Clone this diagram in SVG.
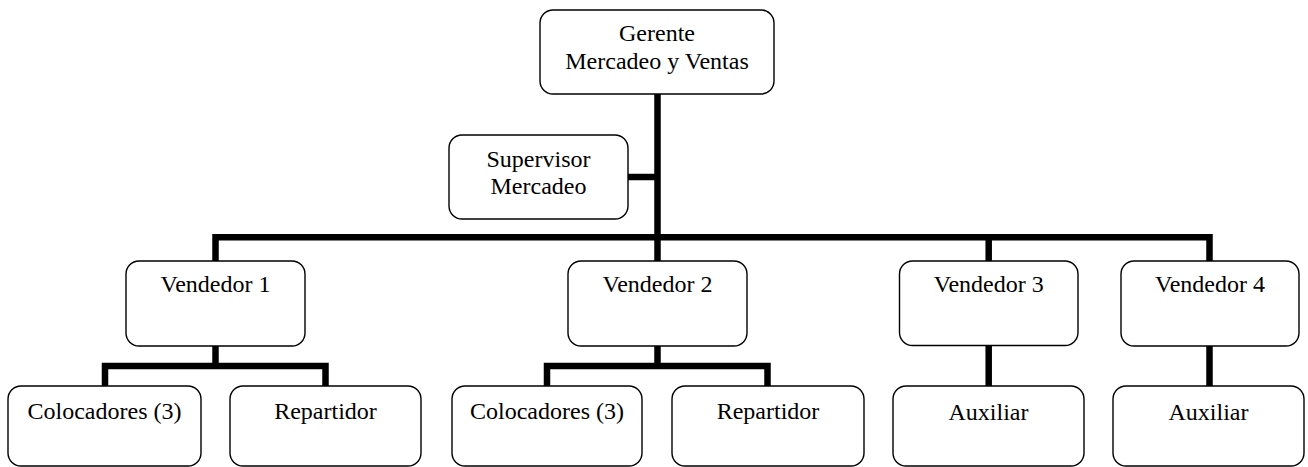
<svg xmlns="http://www.w3.org/2000/svg" width="1308" height="467" viewBox="0 0 1308 467">
  <style>
    .box { fill: #ffffff; stroke: #000000; stroke-width: 1.4; }
    .lbl { font-family: "Liberation Serif", "Times New Roman", serif; font-size: 24px; fill: #000000; text-anchor: middle; }
    .wire { fill: none; stroke: #000000; stroke-width: 6.5; stroke-linejoin: miter; stroke-linecap: butt; }
  </style>
  <rect width="1308" height="467" fill="#ffffff"/>

  <!-- connectors -->
  <g id="connectors">
    <path class="wire" d="M657.5,94 V261"/>
    <path class="wire" d="M628,177 H657.5"/>
    <path class="wire" d="M215.5,261 V237.3 H1209.5 V261"/>
    <path class="wire" d="M988.7,237.3 V261"/>
    <path class="wire" d="M215.5,346 V366"/>
    <path class="wire" d="M105,386 V366 H325.5 V386"/>
    <path class="wire" d="M657.5,346 V366"/>
    <path class="wire" d="M547,386 V366 H767.5 V386"/>
    <path class="wire" d="M988.7,345 V386"/>
    <path class="wire" d="M1209.5,346 V386"/>
  </g>

  <g id="gerente">
    <rect class="box" x="540" y="10" width="234" height="84" rx="13"/>
    <text class="lbl" x="657" y="40.5">Gerente</text>
    <text class="lbl" x="657" y="69">Mercadeo y Ventas</text>
  </g>

  <g id="supervisor">
    <rect class="box" x="449" y="135" width="179" height="84" rx="13"/>
    <text class="lbl" x="538.5" y="166.5">Supervisor</text>
    <text class="lbl" x="538.5" y="193.5">Mercadeo</text>
  </g>

  <g id="vendedor1">
    <rect class="box" x="126" y="261" width="179" height="85" rx="13"/>
    <text class="lbl" x="215.5" y="291.5">Vendedor 1</text>
  </g>
  <g id="vendedor2">
    <rect class="box" x="568" y="261" width="179" height="85" rx="13"/>
    <text class="lbl" x="657.5" y="291.5">Vendedor 2</text>
  </g>
  <g id="vendedor3">
    <rect class="box" x="899.5" y="261" width="178.5" height="84.5" rx="13"/>
    <text class="lbl" x="988.7" y="291.5">Vendedor 3</text>
  </g>
  <g id="vendedor4">
    <rect class="box" x="1121" y="261" width="178" height="85" rx="13"/>
    <text class="lbl" x="1210" y="291.5">Vendedor 4</text>
  </g>

  <g id="colocadores1">
    <rect class="box" x="8" y="386" width="193" height="80" rx="13"/>
    <text class="lbl" x="104.5" y="418.5">Colocadores (3)</text>
  </g>
  <g id="repartidor1">
    <rect class="box" x="230" y="386" width="191" height="80" rx="13"/>
    <text class="lbl" x="325.5" y="418.5">Repartidor</text>
  </g>
  <g id="colocadores2">
    <rect class="box" x="452" y="386" width="190" height="80" rx="13"/>
    <text class="lbl" x="547" y="418.5">Colocadores (3)</text>
  </g>
  <g id="repartidor2">
    <rect class="box" x="672" y="386" width="192" height="80" rx="13"/>
    <text class="lbl" x="768" y="418.5">Repartidor</text>
  </g>
  <g id="auxiliar3">
    <rect class="box" x="893" y="386" width="191" height="80" rx="13"/>
    <text class="lbl" x="988.5" y="420">Auxiliar</text>
  </g>
  <g id="auxiliar4">
    <rect class="box" x="1113" y="386" width="191" height="80" rx="13"/>
    <text class="lbl" x="1208.5" y="420">Auxiliar</text>
  </g>
</svg>
